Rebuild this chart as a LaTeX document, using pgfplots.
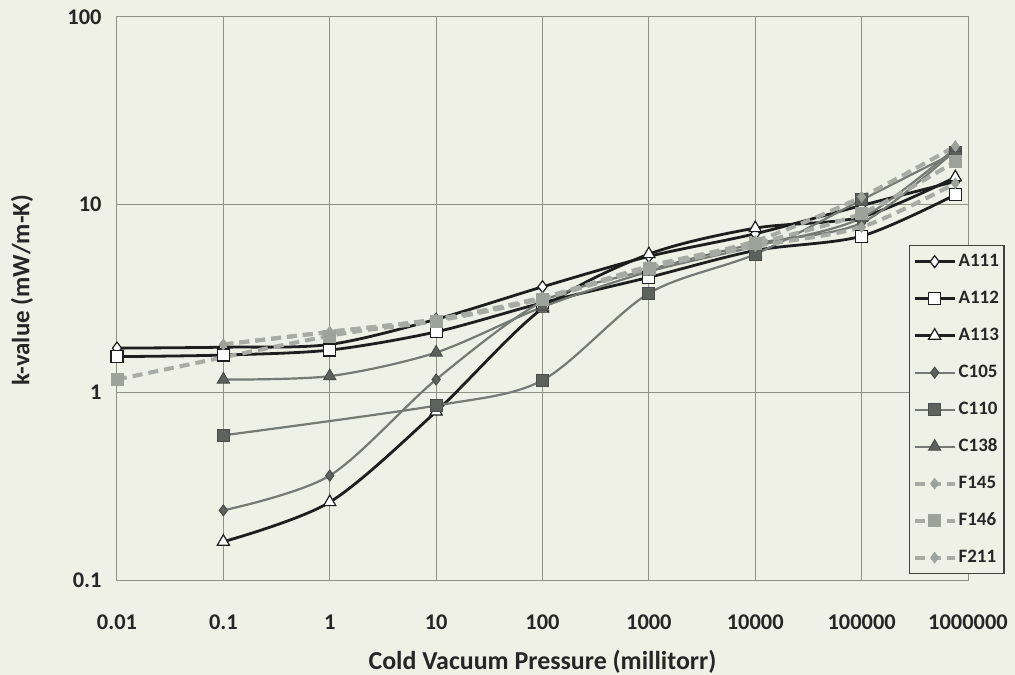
\documentclass[border=0pt]{standalone}
\usepackage{fontspec}
\setmainfont{Carlito}
\usepackage{pgfplots}
\pgfplotsset{compat=1.18}

\definecolor{bg}{HTML}{EFF1E7}
\definecolor{gridc}{HTML}{8E9184}
\definecolor{txt}{HTML}{262626}
\definecolor{blk}{HTML}{1E1E1E}
\definecolor{cline}{HTML}{767A74}
\definecolor{cfill}{HTML}{5E625C}
\definecolor{fline}{HTML}{A7ABA4}
\definecolor{ffill}{HTML}{9DA39A}

\pgfplotsset{
  aser/.style={blk, line width=2.8bp, smooth, tension=0.5,
    mark options={solid, fill=white, draw=blk, line width=1.2bp}},
  cser/.style={cline, line width=2.2bp, smooth, tension=0.5,
    mark options={solid, fill=cfill, draw=blk!80, line width=1bp}},
  fser/.style={fline, line width=4bp, dash pattern=on 10bp off 6bp, smooth, tension=0.5,
    mark options={solid, fill=ffill, draw=ffill, line width=0.5bp}},
}

\begin{document}
\begin{tikzpicture}
\fill[bg] (-117bp,-95bp) rectangle (898bp,580bp);
\path[use as bounding box] (-117bp,-95bp) rectangle (898bp,580bp);
\begin{axis}[
  at={(0,0)}, anchor=south west,
  scale only axis, width=851bp, height=563bp,
  xmode=log, ymode=log,
  xmin=0.01, xmax=1000000, ymin=0.1, ymax=100,
  xtick={0.01,0.1,1,10,100,1000,10000,100000,1000000},
  xticklabels={0.01,0.1,1,10,100,1000,10000,100000,1000000},
  ytick={0.1,1,10,100},
  yticklabels={0.1,1,10,100},
  minor xtick={}, minor ytick={},
  grid=major,
  major grid style={gridc, line width=1bp},
  axis line style={gridc, line width=1bp},
  tick style={draw=none},
  tick label style={font=\fontsize{22.5}{24}\selectfont\bfseries, text=txt},
  xticklabel style={yshift=-31bp},
  yticklabel style={xshift=-12bp},
  xlabel={Cold Vacuum Pressure (millitorr)},
  ylabel={k-value (mW/m-K)},
  every axis x label/.style={at={(axis description cs:0.5,0)}, anchor=center, yshift=-82bp,
    font=\fontsize{26}{28}\selectfont\bfseries, text=txt},
  every axis y label/.style={at={(axis description cs:-0.1116,0.515)}, rotate=90, anchor=center,
    font=\fontsize{25}{27}\selectfont\bfseries, text=txt},
  legend style={at={(0.9307,0.595)}, anchor=north west, fill=bg, draw=blk!85, line width=1.3bp,
    font=\fontsize{19}{21}\selectfont\bfseries, text=txt,
    inner xsep=3bp, inner ysep=6bp, row sep=17bp,
    nodes={inner sep=2bp, text height=13bp, text depth=3bp}},
  legend cell align=left,
  legend image code/.code={\draw[mark repeat=2, mark phase=2] plot coordinates {(0bp,0bp)(20bp,0bp)(40bp,0bp)};},
]
\addplot[aser, mark=diamond*, mark size=6bp] coordinates {
  (0.01,1.72)(0.1,1.74)(1,1.8)(10,2.45)(100,3.65)(1000,5.3)(10000,7.0)(100000,9.9)(760000,13.3)};
\addlegendentry{A111}
\addplot[aser, mark=square*, mark size=6bp] coordinates {
  (0.01,1.55)(0.1,1.58)(1,1.68)(10,2.1)(100,3.0)(1000,4.1)(10000,5.7)(100000,6.8)(760000,11.3)};
\addlegendentry{A112}
\addplot[aser, mark=triangle*, mark size=7bp] coordinates {
  (0.1,0.16)(1,0.26)(10,0.79)(100,2.8)(1000,5.45)(10000,7.5)(100000,8.6)(760000,14)};
\addlegendentry{A113}
\addplot[cser, mark=diamond*, mark size=5.5bp] coordinates {
  (0.1,0.235)(1,0.36)(10,1.17)(100,3.05)(1000,4.5)(10000,6.2)(100000,8.0)(760000,19.5)};
\addlegendentry{C105}
\addplot[cser, mark=square*, mark size=6bp] coordinates {
  (0.1,0.59)(10,0.85)(100,1.16)(1000,3.37)(10000,5.45)(100000,10.6)(760000,19)};
\addlegendentry{C110}
\addplot[cser, mark=triangle*, mark size=7bp] coordinates {
  (0.1,1.17)(1,1.22)(10,1.63)(100,2.85)(1000,4.4)(10000,6.0)(100000,8.5)(760000,20)};
\addlegendentry{C138}
\addplot[fser, mark=diamond*, mark size=5.5bp] coordinates {
  (0.1,1.8)(1,2.1)(10,2.45)(100,3.2)(1000,4.7)(10000,6.4)(100000,11)(760000,20.5)};
\addlegendentry{F145}
\addplot[fser, mark=square*, mark size=6bp] coordinates {
  (0.01,1.17)(1,2.0)(10,2.4)(100,3.15)(1000,4.6)(10000,6.2)(100000,9.0)(760000,17)};
\addlegendentry{F146}
\addplot[fser, mark=diamond*, mark size=5.5bp] coordinates {
  (0.1,1.8)(1,2.1)(10,2.45)(100,3.2)(1000,4.6)(10000,6.0)(100000,7.6)(760000,13)};
\addlegendentry{F211}
\end{axis}
\end{tikzpicture}
\end{document}
